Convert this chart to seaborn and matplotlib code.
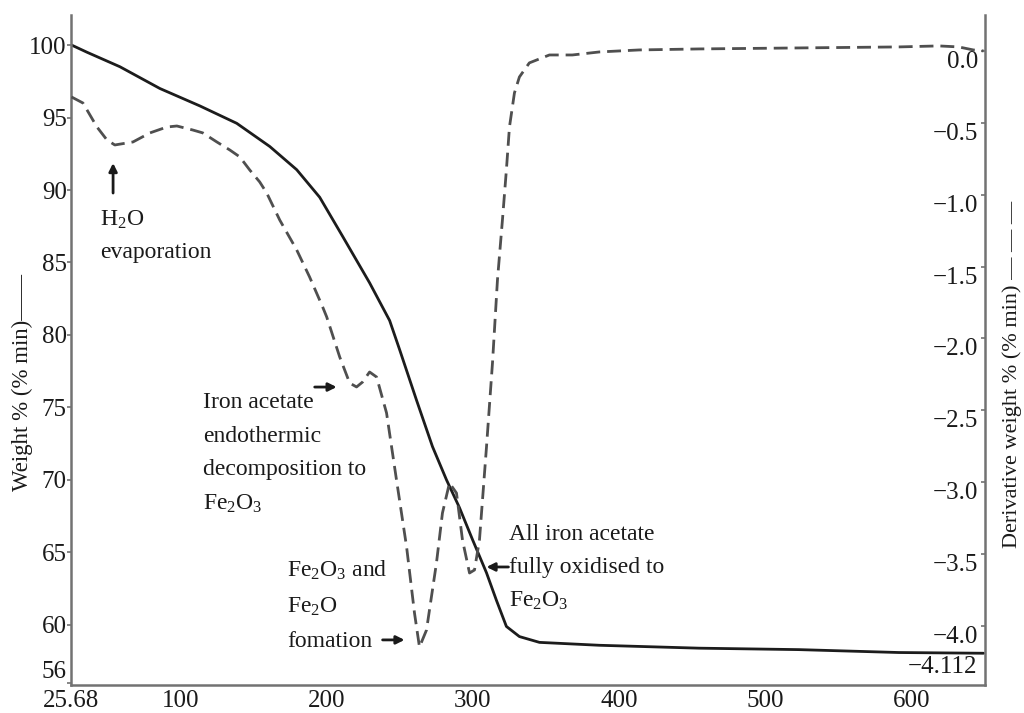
import numpy as np
import pandas as pd
import matplotlib
matplotlib.use("Agg")
import matplotlib.pyplot as plt
import seaborn as sns

# ---------------- data ----------------
weight_temp = [25.68, 36.3, 58.8, 86.1, 113.4, 138.6, 161.2, 179.6, 195.3, 211.0,
               229.4, 243.1, 249.9, 261.5, 272.4, 282.0, 290.8, 299.7, 309.3,
               316.1, 322.9, 331.8, 345.5, 386.4, 454.6, 522.9, 591.1, 649.0]
weight_pct = [100.0, 99.5, 98.5, 97.0, 95.8, 94.6, 93.0, 91.4, 89.5, 86.8,
              83.6, 81.0, 79.0, 75.5, 72.3, 70.0, 68.1, 65.9, 63.6,
              61.7, 59.9, 59.2, 58.8, 58.6, 58.4, 58.3, 58.1, 58.05]

deriv_temp = [25.68, 33.5, 43.1, 49.9, 55.3, 67.7, 79.3, 90.9, 97.7, 108.6, 115.4,
              125.0, 133.9, 140.7, 147.5, 154.3, 159.1, 168.0, 179.6, 188.4, 197.3,
              200.1, 209.0, 215.8, 220.5, 224.6, 229.4, 234.2, 237.6, 241.0, 247.8,
              254.7, 260.1, 263.5, 268.3, 275.1, 279.2, 284.0, 288.8, 292.9, 297.7,
              301.1, 304.5, 309.3, 313.4, 316.8, 320.2, 322.9, 325.0, 328.4, 331.8,
              338.6, 352.3, 368.0, 386.4, 413.7, 454.6, 522.9, 591.1, 618.4, 632.0,
              642.0, 649.0]
deriv_val = [-0.320, -0.362, -0.529, -0.619, -0.654, -0.633, -0.570, -0.529, -0.522,
             -0.550, -0.570, -0.633, -0.689, -0.737, -0.828, -0.911, -0.988, -1.176,
             -1.384, -1.572, -1.780, -1.850, -2.129, -2.310, -2.337, -2.303, -2.233,
             -2.268, -2.393, -2.518, -2.984, -3.450, -3.910, -4.146, -4.028, -3.562,
             -3.214, -3.005, -3.075, -3.402, -3.631, -3.610, -3.402, -2.755, -2.170,
             -1.593, -1.176, -0.828, -0.529, -0.292, -0.181, -0.083, -0.028, -0.028,
             -0.007, 0.007, 0.014, 0.021, 0.028, 0.035, 0.028, 0.007, 0.0]

x_ticks = [25.68, 100, 200, 300, 400, 500, 600]
x_tick_labels = ["25.68", "100", "200", "300", "400", "500", "600"]
left_ticks = [56, 60, 65, 70, 75, 80, 85, 90, 95, 100]
left_tick_labels = ["56", "60", "65", "70", "75", "80", "85", "90", "95", "100"]
right_ticks = [0.0, -0.5, -1.0, -1.5, -2.0, -2.5, -3.0, -3.5, -4.0]
right_tick_labels = ["0.0", "\u22120.5", "\u22121.0", "\u22121.5", "\u22122.0",
                     "\u22122.5", "\u22123.0", "\u22123.5", "\u22124.0"]
right_min_label = "\u22124.112"

left_label = "Weight % (% min)\u2014\u2014"
right_label = "Derivative weight % (% min) \u2014 \u2014 \u2014"

# ---------------- style ----------------
sns.set_style("white")
plt.rcParams["font.family"] = ["Liberation Serif", "DejaVu Serif"]
plt.rcParams["mathtext.fontset"] = "custom"
plt.rcParams["mathtext.rm"] = "Liberation Serif"
plt.rcParams["mathtext.it"] = "Liberation Serif:italic"
plt.rcParams["mathtext.bf"] = "Liberation Serif:bold"

spine_col = "#727272"
text_col = "#1a1a1a"

fig = plt.figure(figsize=(10.24, 7.13), dpi=100)
ax = fig.add_axes([0.06982, 0.03927, 0.89209, 0.93969])
ax2 = ax.twinx()

sns.lineplot(x=weight_temp, y=weight_pct, ax=ax, color="#1c1c1c", linewidth=2.0,
             estimator=None, sort=False)
sns.lineplot(x=deriv_temp, y=deriv_val, ax=ax2, color="#4f4f4f", linewidth=2.0,
             linestyle=(0, (5, 2.5)), estimator=None, sort=False)

ax.set_xlim(25.68, 650)
ax.set_ylim(55.86, 102.07)
ax2.set_ylim(-4.41, 0.25)

ax.set_xticks(x_ticks)
ax.set_xticklabels(x_tick_labels)
ax.set_yticks(left_ticks)
ax.set_yticklabels(left_tick_labels)
ax2.set_yticks(right_ticks)
ax2.set_yticklabels(right_tick_labels)

for a in (ax, ax2):
    a.spines["top"].set_visible(False)
    for s in a.spines.values():
        s.set_color(spine_col)
        s.set_linewidth(1.8)
ax2.spines["left"].set_visible(False)
ax2.spines["bottom"].set_visible(False)
ax.spines["right"].set_visible(False)

ax.tick_params(axis="x", direction="in", length=3, width=1.2, color=spine_col,
               labelsize=18, pad=3.5, labelcolor=text_col)
ax.tick_params(axis="y", direction="out", length=3, width=1.2, color=spine_col,
               labelsize=18, pad=0.5, labelcolor=text_col)
ax2.tick_params(axis="y", direction="in", length=3, width=1.2, color=spine_col,
                labelsize=18, pad=-5, labelcolor=text_col)
for lab in ax2.get_yticklabels():
    lab.set_horizontalalignment("right")
    lab.set_verticalalignment("top")
ax.get_yticklabels()[0].set_verticalalignment("bottom")

ax2.text(0.992, 0.027, right_min_label, transform=ax2.transAxes, ha="right",
         va="center", fontsize=18, color=text_col)

ax.set_ylabel(left_label, fontsize=16.5, color=text_col)
ax.yaxis.set_label_coords(-0.042, 0.452)
ax2.set_ylabel(right_label, fontsize=16, color=text_col, rotation=90)
ax2.yaxis.set_label_coords(1.0186, 0.463)

# ---------------- annotations ----------------
fs = 17
arrow = dict(arrowstyle="-|>", color="#1a1a1a", lw=2.0, mutation_scale=12,
             shrinkA=0, shrinkB=0)

ax.text(45.1, 87.52, "H$_2$O", fontsize=fs, color=text_col, va="baseline")
ax.text(45.1, 85.31, "evaporation", fontsize=fs, color=text_col, va="baseline")
ax.annotate("", xy=(54.1, 91.86), xytext=(54.1, 89.79), arrowprops=arrow)

for txt, yv in [("Iron acetate", 74.97), ("endothermic", 72.62),
                ("decomposition to", 70.34), ("Fe$_2$O$_3$", 67.93)]:
    ax.text(115.5, yv, txt, fontsize=fs, color=text_col, va="baseline")
ax.annotate("", xy=(206.9, 76.41), xytext=(191.9, 76.41), arrowprops=arrow)

for txt, yv in [("Fe$_2$O$_3$ and", 63.31), ("Fe$_2$O", 60.83), ("fomation", 58.48)]:
    ax.text(172.8, yv, txt, fontsize=fs, color=text_col, va="baseline")
ax.annotate("", xy=(253.3, 58.97), xytext=(238.3, 58.97), arrowprops=arrow)

for txt, yv in [("All iron acetate", 65.86), ("fully oxidised to", 63.59),
                ("Fe$_2$O$_3$", 61.24)]:
    ax.text(324.9, yv, txt, fontsize=fs, color=text_col, va="baseline")
ax.annotate("", xy=(309.3, 64.0), xytext=(324.3, 64.0), arrowprops=arrow)

fig.savefig("out.png", dpi=100)
